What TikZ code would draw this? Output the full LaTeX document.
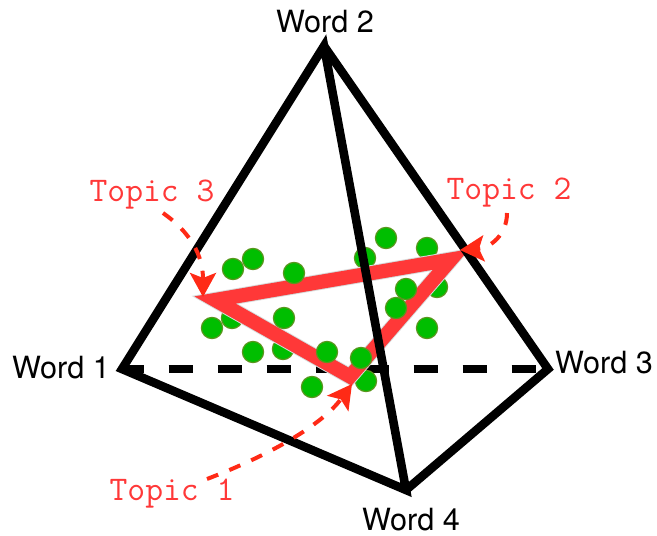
\documentclass[tikz,border=0pt]{standalone}
\usepackage{fontspec}
\setmainfont{TeX Gyre Heros}
\usetikzlibrary{arrows.meta}
\definecolor{topicred}{RGB}{255,56,56}
\definecolor{arrowred}{RGB}{255,42,22}
\definecolor{dotgreen}{RGB}{0,190,0}
\definecolor{dotedge}{RGB}{90,150,30}
\tikzset{
  wordlabel/.style={font=\fontsize{15.3}{18}\selectfont,inner sep=0pt},
  topiclabel/.style={font=\ttfamily\fontsize{17.3}{20}\selectfont,text=topicred,inner sep=0pt},
  simplexedge/.style={line width=4.3pt,black,miter limit=20},
  topicedge/.style={line width=7pt,topicred,miter limit=20},
  topicshadow/.style={line width=7pt,black!30,miter limit=20},
  topicarrow/.style={line width=2pt,arrowred,dash pattern=on 6pt off 6pt,
    -{Stealth[length=12pt,width=13pt,inset=2.5pt]}},
  topicdot/.style={fill=dotgreen,draw=dotedge,line width=.6pt}
}
\begin{document}
\begin{tikzpicture}[x=.5pt,y=-.5pt]
  \useasboundingbox (0,0) rectangle (657,535);
  % --- corners and their labels ---
  \coordinate (w1) at (122,369);
  \coordinate (w2) at (324,46);
  \coordinate (w3) at (548,369);
  \coordinate (w4) at (406,490);
  \node[wordlabel] (word1) at (61,368) {Word 1};
  \node[wordlabel] (word2) at (325,22) {Word 2};
  \node[wordlabel] (word3) at (604,363) {Word 3};
  \node[wordlabel] (word4) at (411,520) {Word 4};
  % --- hidden edge ---
  \draw[simplexedge,dash pattern=on 12.25pt off 12.25pt,dash phase=1.15pt] (w1) -- (w3);
  % --- dots behind the triangle ---
  \foreach \x/\y in {365/258,427/248,437/287,232/318,283/349,366/381}
    \filldraw[topicdot] (\x,\y) circle (10.6);
  % --- topic triangle ---
  \coordinate (t1) at (350,376.5);
  \coordinate (t2) at (451,259.5);
  \coordinate (t3) at (215,300);
  \draw[topicshadow,line width=8pt,black!14,shift={(4,6)}] (t3) -- (t2) -- (t1) -- cycle;
  \draw[topicshadow,shift={(4,6)}] (t3) -- (t2) -- (t1) -- cycle;
  \draw[topicedge] (t3) -- (t2) -- (t1) -- cycle;
  % --- dots in front ---
  \foreach \x/\y in {233/269,253/259,294/273,386/238,406/289,396/308,427/328,
                     284/318,212/328,253/352,327/352,361/358,312/387}
    \filldraw[topicdot] (\x,\y) circle (10.6);
  % --- visible edges ---
  \draw[simplexedge] (w1) -- (w2) -- (w4) -- cycle;
  \draw[simplexedge] (w2) -- (w3) -- (w4);
  % --- topic labels and arrows ---
  \node[topiclabel] (topic1) at (172,494) {Topic 1};
  \node[topiclabel] (topic2) at (509,193) {Topic 2};
  \node[topiclabel] (topic3) at (152,195) {Topic 3};
  \coordinate (a1) at (352,384);
  \coordinate (a2) at (460,250);
  \coordinate (a3) at (203,297);
  \draw[topicarrow] ([xshift=17.5pt,yshift=0pt]topic1.north)
    .. controls (270,455) and (322,425) .. (a1);
  \draw[topicarrow] ([xshift=-1pt,yshift=-2.5pt]topic2.south)
    .. controls (507,235) and (490,248) .. (a2);
  \draw[topicarrow] ([xshift=5.5pt,yshift=-1.5pt]topic3.south)
    .. controls (190,232) and (203,255) .. (a3);
\end{tikzpicture}
\end{document}
